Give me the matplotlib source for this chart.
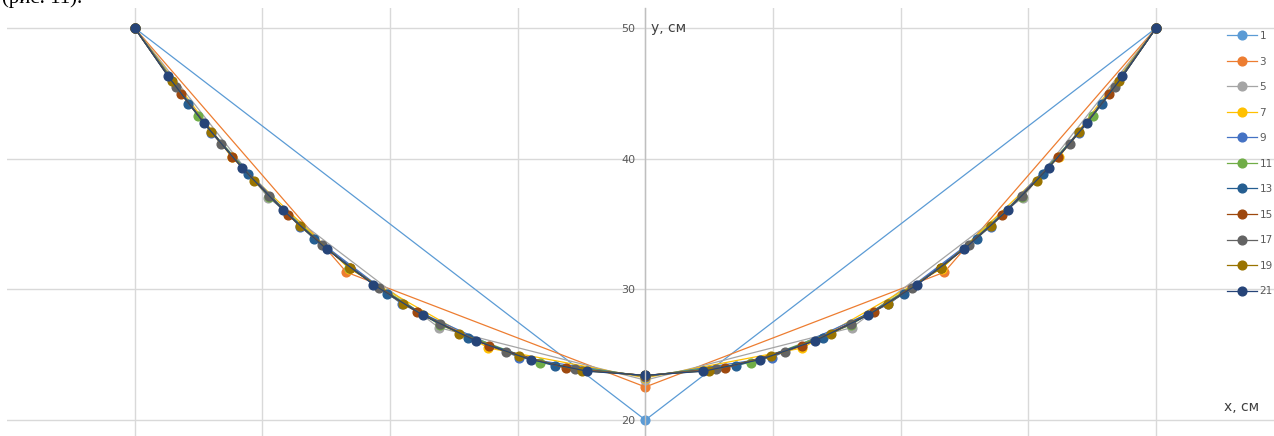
import matplotlib
matplotlib.use("Agg")
import matplotlib.pyplot as plt

# данные: координаты узлов цепочки для разного числа узлов
labels = ["1", "3", "5", "7", "9", "11", "13", "15", "17", "19", "21"]
colors = ["#5B9BD5", "#ED7D31", "#A5A5A5", "#FFC000", "#4472C4", "#70AD47",
          "#255E91", "#9E480E", "#636363", "#997300", "#264478"]

x1 = [-40, 0, 40]
y1 = [50, 20, 50]

x3 = [-40, -23.41, 0, 23.41, 40]
y3 = [50, 31.31, 22.53, 31.31, 50]

x5 = [-40, -29.55, -16.18, 0, 16.18, 29.55, 40]
y5 = [50, 37.02, 27.07, 23.05, 27.07, 37.02, 50]

x7 = [-40, -32.38, -23.21, -12.29, 0, 12.29, 23.21, 32.38, 40]
y7 = [50, 40.09, 31.59, 25.51, 23.23, 25.51, 31.59, 40.09, 50]

x9 = [-40, -34.00, -27.06, -19.03, -9.89, 0, 9.89, 19.03, 27.06, 34.00, 40]
y9 = [50, 42.00, 34.80, 28.84, 24.78, 23.31, 24.78, 28.84, 34.80, 42.00, 50]

x11 = [-40, -35.06, -29.48, -23.18, -16.09, -8.27, 0,
       8.27, 16.09, 23.18, 29.48, 35.06, 40]
y11 = [50, 43.29, 37.10, 31.65, 27.27, 24.38, 23.36,
       24.38, 27.27, 31.65, 37.10, 43.29, 50]

x13 = [-40, -35.80, -31.14, -25.97, -20.23, -13.91, -7.10, 0,
       7.10, 13.91, 20.23, 25.97, 31.14, 35.80, 40]
y13 = [50, 44.22, 38.81, 33.88, 29.63, 26.29, 24.13, 23.38,
       24.13, 26.29, 29.63, 33.88, 38.81, 44.22, 50]

x15 = [-40, -36.34, -32.35, -27.97, -23.16, -17.92, -12.25, -6.22, 0,
       6.22, 12.25, 17.92, 23.16, 27.97, 32.35, 36.34, 40]
y15 = [50, 44.93, 40.13, 35.67, 31.67, 28.27, 25.65, 23.98, 23.40,
       23.98, 25.65, 28.27, 31.67, 35.67, 40.13, 44.93, 50]

x17 = [-40, -36.77, -33.27, -29.47, -25.35, -20.88, -16.07, -10.93, -5.54, 0,
       5.54, 10.93, 16.07, 20.88, 25.35, 29.47, 33.27, 36.77, 40]
y17 = [50, 45.48, 41.16, 37.11, 33.38, 30.08, 27.31, 25.20, 23.87, 23.41,
       23.87, 25.20, 27.31, 30.08, 33.38, 37.11, 41.16, 45.48, 50]

x19 = [-40, -37.10, -33.99, -30.64, -27.04, -23.16, -19.00, -14.56, -9.87, -4.99, 0,
       4.99, 9.87, 14.56, 19.00, 23.16, 27.04, 30.64, 33.99, 37.10, 40]
y19 = [50, 45.92, 42.01, 38.29, 34.83, 31.67, 28.90, 26.60, 24.86, 23.78, 23.41,
       23.78, 24.86, 26.60, 28.90, 31.67, 34.83, 38.29, 42.01, 45.92, 50]

x21 = [-40, -37.37, -34.57, -31.58, -28.38, -24.96, -21.30, -17.41, -13.30, -8.99, -4.54, 0,
       4.54, 8.99, 13.30, 17.41, 21.30, 24.96, 28.38, 31.58, 34.57, 37.37, 40]
y21 = [50, 46.29, 42.71, 39.29, 36.06, 33.07, 30.36, 28.01, 26.07, 24.62, 23.73, 23.42,
       23.73, 24.62, 26.07, 28.01, 30.36, 33.07, 36.06, 39.29, 42.71, 46.29, 50]

xs = [x1, x3, x5, x7, x9, x11, x13, x15, x17, x19, x21]
ys = [y1, y3, y5, y7, y9, y11, y13, y15, y17, y19, y21]

W, H = 1274, 436
fig = plt.figure(figsize=(W / 100, H / 100), dpi=100)
fig.patch.set_facecolor("white")

# область графика: слева с 7 px, сверху с 8 px, снизу и справа обрезана
ax = fig.add_axes([7 / W, 0, (W - 7) / W, (H - 8) / H])
ax.set_xlim(-50, (W - 645) / 12.775)
ax.set_ylim(20 - 16 / 13.067, 50 + 20 / 13.067)

for x, y, lab, c in zip(xs, ys, labels, colors):
    ax.plot(x, y, color=c, lw=0.9, marker="o", ms=6.3, mfc=c, mec=c, label=lab)

ax.set_xticks(range(-40, 50, 10))
ax.set_yticks([20, 30, 40, 50])
ax.grid(True, color="#d9d9d9", lw=1)
ax.set_axisbelow(True)
ax.tick_params(axis="x", length=0, labelbottom=False)
ax.tick_params(axis="y", length=0, pad=7, labelsize=8, labelcolor="#595959")

for side in ["top", "right", "bottom"]:
    ax.spines[side].set_visible(False)
ax.spines["left"].set_position(("data", 0))
ax.spines["left"].set_color("#bfbfbf")
ax.spines["left"].set_linewidth(1)

fig.text(651 / W, 1 - 28 / H, "y, см", fontsize=10, color="#404040", va="center", ha="left")
fig.text(1224 / W, 1 - 407 / H, "x, см", fontsize=10, color="#404040", va="center", ha="left")

# кусок подписи из документа сверху (в оригинале тоже обрезан)
fig.text(2 / W, 1 - 3 / H, "(рис. 11).", fontsize=15, family="Liberation Serif",
         color="black", va="baseline", ha="left")

leg = ax.legend(loc="upper left", bbox_to_anchor=(1226.7 / W, 1 - 31 / H),
                bbox_transform=fig.transFigure, frameon=False, fontsize=7.5,
                labelspacing=1.49, handlelength=2.9, handletextpad=0.25,
                borderpad=0, borderaxespad=0, markerscale=1.0)
for t in leg.get_texts():
    t.set_color("#595959")

fig.savefig("out.png", dpi=100, facecolor="white")
